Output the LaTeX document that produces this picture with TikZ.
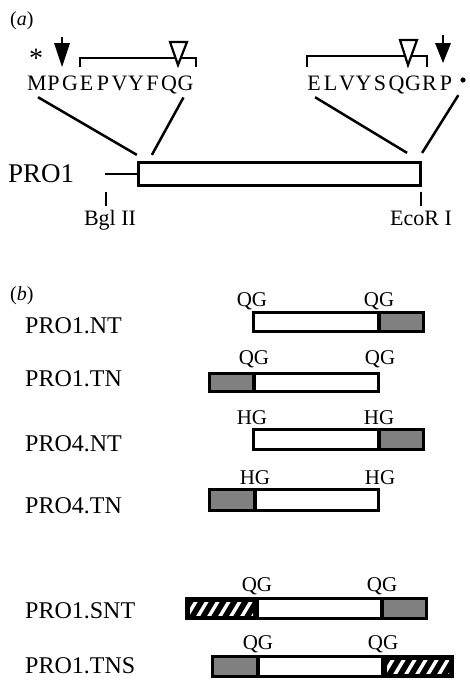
\documentclass[tikz,border=0pt]{standalone}
\usepackage{fontspec}
\setmainfont{Liberation Serif}
\definecolor{grayfill}{gray}{0.5}
\begin{document}
\begin{tikzpicture}[x=1pt,y=-1pt,
  seq/.style={anchor=base, inner sep=0pt, font=\fontsize{22}{22}\selectfont},
  rowlbl/.style={anchor=base west, inner sep=0pt, font=\fontsize{24}{24}\selectfont},
  site/.style={anchor=base, inner sep=0pt, font=\fontsize{21}{21}\selectfont},
  enz/.style={anchor=base, inner sep=0pt, font=\fontsize{22}{22}\selectfont},
  panel/.style={anchor=base west, inner sep=0pt, font=\fontsize{20}{20}\selectfont},
  conn/.style={line width=2.5pt},
  brk/.style={line width=2.2pt},
  outl/.style={line width=3.2pt},
  stripe/.style={white, line width=3.5pt}]
\useasboundingbox (0,0) rectangle (469,680);

% ---------- panel (a)
\node[panel] (pa) at (10,25) {(\textit{a})};
\node[anchor=base, inner sep=0pt, font=\fontsize{28}{28}\selectfont] (ast) at (36,67) {*};

% left sequence
\foreach \c [count=\i from 0] in {M,P,G,E,P,V,Y,F,Q,G}
  \node[seq] (l\i) at (37+16.5*\i,90) {\c};
% right sequence
\foreach \c [count=\i from 0] in {E,L,V,Y,S,Q,G,R,P}
  \node[seq] (r\i) at (314+16.5*\i,90) {\c};
\fill (463,80) circle (2.6);

% brackets
\draw[brk] (80,67) -- (80,58) -- (196,58) -- (196,67);
\draw[brk] (307,67) -- (307,56) -- (427,56) -- (427,67);
% open triangles
\draw[line width=2.2pt, fill=white] (170,42) -- (187,42) -- (178,65) -- cycle;
\draw[line width=2.2pt, fill=white] (400,40) -- (417,40) -- (408,65) -- cycle;
% filled arrows
\draw[line width=2.8pt] (62,37) -- (62,45);
\fill (54,43) -- (70,43) -- (62,67) -- cycle;
\draw[line width=2.8pt] (443,35) -- (443,45);
\fill (435,43) -- (451,43) -- (443,63) -- cycle;

% PRO1 box
\node[draw, line width=3.2pt, minimum width=282pt, minimum height=23pt, inner sep=0pt] (box) at (279.5,174) {};
\node[anchor=base west, inner sep=0pt, font=\fontsize{27}{27}\selectfont] (pro1) at (8,182) {PRO1};
\coordinate (stub) at (105,174);
\draw[line width=1.8pt] (stub) -- (box.west);

\draw[conn] ([xshift=1pt,yshift=-7pt]l0.south) -- ([yshift=6pt]box.north west);
\draw[conn] ([xshift=-2pt,yshift=-7pt]l9.south) -- ([xshift=15pt,yshift=6pt]box.north west);
\draw[conn] ([xshift=8pt,yshift=-7pt]r0.south west) -- ([xshift=-15pt,yshift=8pt]box.north east);
\draw[conn] ([xshift=6pt,yshift=-5pt]r8.south east) -- ([yshift=8pt]box.north east);

\node[enz] (bgl) at (110,225) {Bgl II};
\node[enz] (eco) at (421,225) {EcoR I};
\coordinate (bglt) at (106,192);
\coordinate (ecot) at (421,192);
\draw[line width=1.8pt] (bglt) -- (106,206);
\draw[line width=1.8pt] (ecot) -- (421,206);

% ---------- panel (b)
\node[panel] (pb) at (10,300) {(\textit{b})};

% Row 1 PRO1.NT
\node[rowlbl] (n1) at (25,333) {PRO1.NT};
\fill[grayfill] (379,312.5) rectangle (423.5,331.5);
\draw[outl] (253.5,312.5) rectangle (423.5,331.5) (379,312.5) -- (379,331.5);
\node[site] (s1a) at (252,306.5) {QG};
\node[site] (s1b) at (379,306.5) {QG};

% Row 2 PRO1.TN
\node[rowlbl] (n2) at (25,386) {PRO1.TN};
\fill[grayfill] (209.5,373.5) rectangle (254,391.5);
\draw[outl] (209.5,373.5) rectangle (378.5,391.5) (254,373.5) -- (254,391.5);
\node[site] (s2a) at (254,364.5) {QG};
\node[site] (s2b) at (380,364.5) {QG};

% Row 3 PRO4.NT
\node[rowlbl] (n3) at (25,451) {PRO4.NT};
\fill[grayfill] (379,429.5) rectangle (423.5,449.5);
\draw[outl] (253.5,429.5) rectangle (423.5,449.5) (379,429.5) -- (379,449.5);
\node[site] (s3a) at (252,424.5) {HG};
\node[site] (s3b) at (379,424.5) {HG};

% Row 4 PRO4.TN
\node[rowlbl] (n4) at (25,513) {PRO4.TN};
\fill[grayfill] (209.5,489.5) rectangle (255,510.5);
\draw[outl] (209.5,489.5) rectangle (378.5,510.5) (255,489.5) -- (255,510.5);
\node[site] (s4a) at (255,484.5) {HG};
\node[site] (s4b) at (380,484.5) {HG};

% Row 5 PRO1.SNT
\node[rowlbl] (n5) at (25,618) {PRO1.SNT};
\fill (186.5,598.5) rectangle (257,618.5);
\begin{scope}
  \clip (190,602) rectangle (253,615);
  \foreach \k in {175,186,...,265} \draw[stripe] (\k,618) -- (\k+12,598);
\end{scope}
\fill[grayfill] (382,598.5) rectangle (426.5,618.5);
\draw[outl] (186.5,598.5) rectangle (426.5,618.5) (257,598.5) -- (257,618.5) (382,598.5) -- (382,618.5);
\node[site] (s5a) at (257,591.5) {QG};
\node[site] (s5b) at (382,591.5) {QG};

% Row 6 PRO1.TNS
\node[rowlbl] (n6) at (25,673) {PRO1.TNS};
\fill[grayfill] (212.5,656.5) rectangle (258,676.5);
\fill (383,656.5) rectangle (452.5,676.5);
\begin{scope}
  \clip (387,660) rectangle (449,673);
  \foreach \k in {372,383,...,460} \draw[stripe] (\k,676) -- (\k+12,656);
\end{scope}
\draw[outl] (212.5,656.5) rectangle (452.5,676.5) (258,656.5) -- (258,676.5) (383,656.5) -- (383,676.5);
\node[site] (s6a) at (258,649.5) {QG};
\node[site] (s6b) at (383,649.5) {QG};
\end{tikzpicture}
\end{document}
